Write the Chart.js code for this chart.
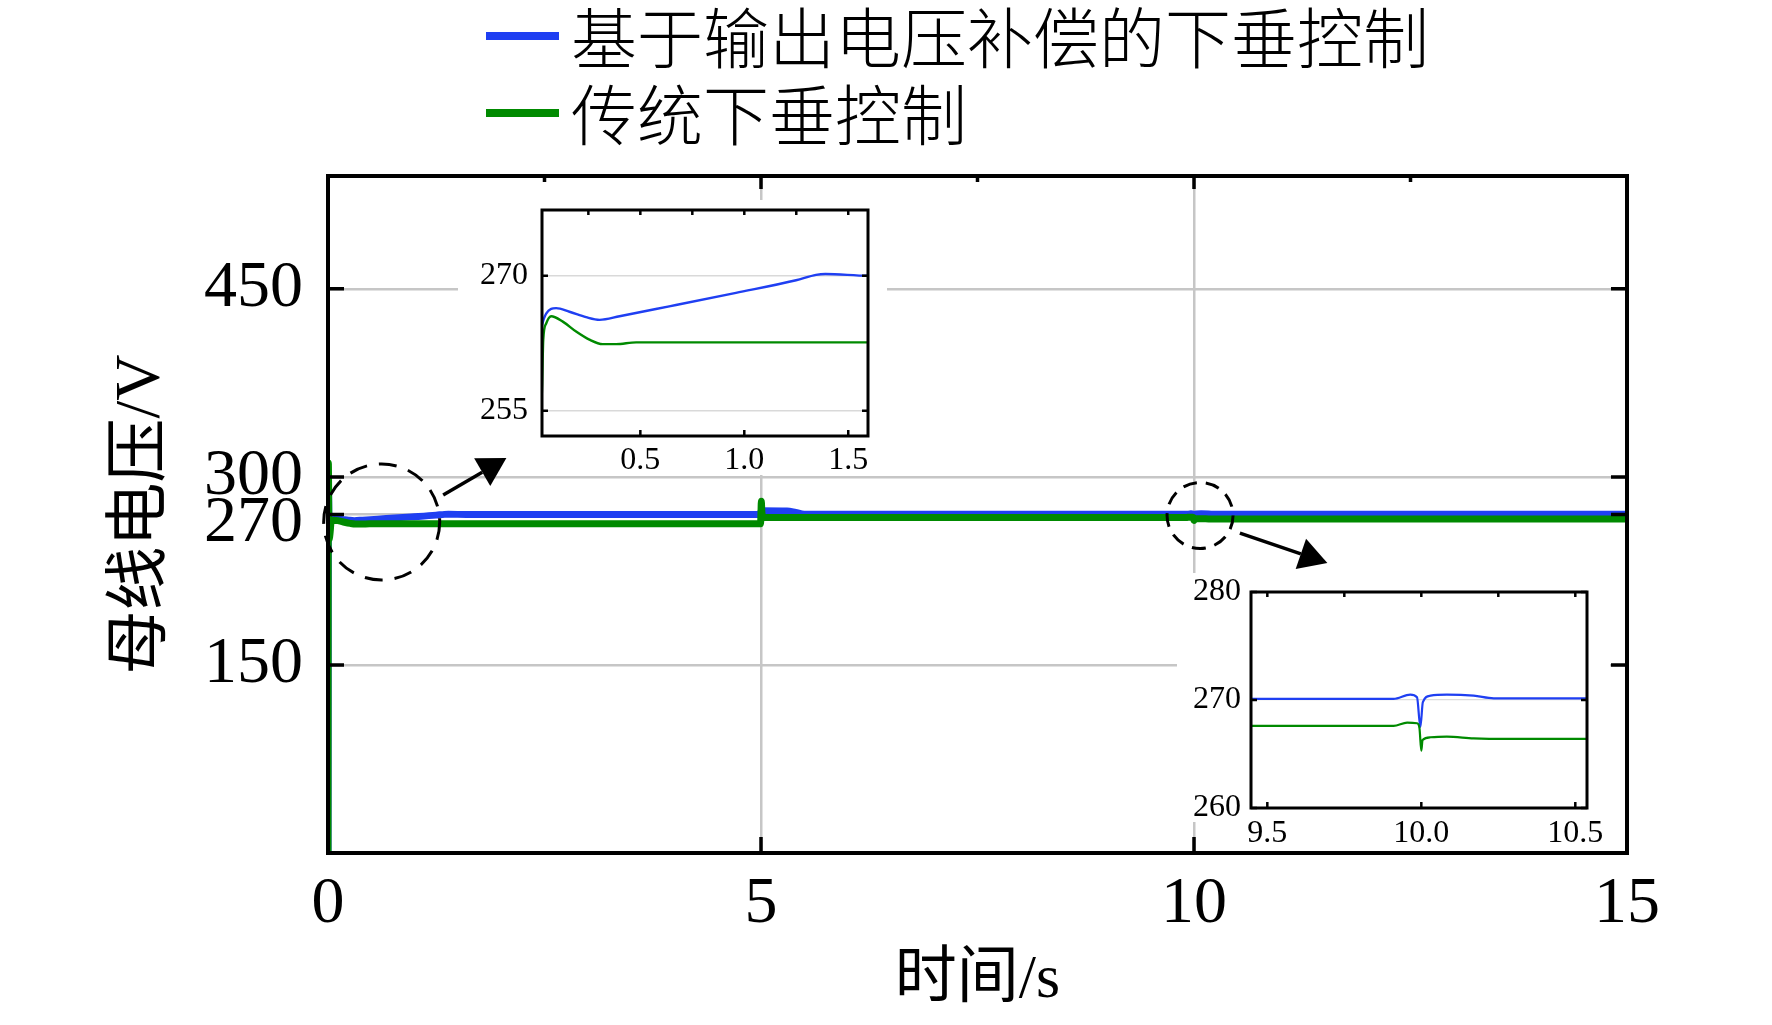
<!DOCTYPE html>
<html>
<head>
<meta charset="utf-8">
<script src="https://cdn.jsdelivr.net/npm/chart.js@4.4.1/dist/chart.umd.min.js"></script>
<style>
  html, body { margin: 0; padding: 0; background: #fff; }
  #wrap { position: relative; width: 1772px; height: 1025px; }
  canvas { position: absolute; }
</style>
</head>
<body>
<div id="wrap">
  <canvas id="main" width="1772" height="1025" style="left:0;top:0"></canvas>
  <canvas id="zoom1" width="430" height="279" style="left:458px;top:196px"></canvas>
  <canvas id="zoom2" width="433" height="277" style="left:1177px;top:573px"></canvas>
</div>
<script>
// nazivi serija i osi
const seriesNames = ['基于输出电压补偿的下垂控制', '传统下垂控制'];
const xTitle = '时间/s';
const yTitle = '母线电压/V';

// očitano sa slike: vrijeme (s) i napon (V)
const tBlue = [0, 0.004, 0.012, 0.027, 0.047, 0.095, 0.159, 0.239, 0.304, 0.40, 0.639, 0.96, 1.249, 1.345, 1.39, 1.6,
  4.995, 5.002, 5.3, 5.4, 5.5, 9.91, 9.964, 9.986, 9.997, 10.005, 10.03, 10.083, 10.17, 10.235, 15];
const vBlue = [0, 296, 262.5, 264.5, 265.8, 266.4, 266.0, 265.4, 265.1, 265.5, 266.6, 268.1, 269.5, 270.1, 270.2, 270.0,
  270.0, 273.0, 272.8, 271.6, 270.2, 270.1, 270.5, 270.25, 267.5, 269.8, 270.4, 270.5, 270.4, 270.15, 270.1];

const tGreen = [0, 0.004, 0.012, 0.027, 0.033, 0.047, 0.071, 0.127, 0.191, 0.255, 0.319, 0.383, 0.48,
  4.995, 5.0, 5.004, 5.01, 5.03, 9.91, 9.954, 9.986, 9.994, 10.0, 10.004, 10.03, 10.083, 10.17, 10.28, 15];
const vGreen = [0, 311, 250, 257.5, 262.9, 264.7, 265.5, 264.9, 263.8, 262.9, 262.4, 262.4, 262.6,
  262.6, 272, 280.5, 272, 267.6, 267.6, 267.9, 267.85, 267.4, 265.3, 266.3, 266.55, 266.6, 266.45, 266.4, 266.4];

// oznake na osima
const xTicksMain = [0, 5, 10, 15];
const xMinorMain = [2.5, 7.5, 12.5];
const yTicksMain = [150, 270, 300, 450];
const xTicksZoom1 = [0.5, 1.0, 1.5];
const xTopZoom1 = [0.25, 0.5, 0.75, 1.0, 1.25, 1.5];
const yTicksZoom1 = [255, 270];
const xTicksZoom2 = [9.5, 10.0, 10.5];
const xTopZoom2 = [9.5, 9.75, 10.0, 10.25, 10.5];
const yTicksZoom2 = [260, 270, 280];

// boje i fontovi
const BLUE = '#1f3ff2';
const GREEN = '#008a00';
const GRID = '#c6c6c6';
const SERIF = '"Liberation Serif", "Times New Roman", serif';
const CJK = '"Liberation Serif", "Noto Sans CJK SC", serif';

const toXY = (t, v) => t.map((x, i) => ({ x, y: v[i] }));

function lineSets(width) {
  const base = { pointRadius: 0, borderWidth: width, fill: false, cubicInterpolationMode: 'monotone' };
  return [
    { ...base, label: seriesNames[0], data: toXY(tBlue, vBlue), borderColor: BLUE, order: 2 },
    { ...base, label: seriesNames[1], data: toXY(tGreen, vGreen), borderColor: GREEN, order: 1 },
  ];
}

const setTicks = arr => s => { s.ticks = arr.map(v => ({ value: v })); };

// fiksna širina/visina osi, bez dodatnog razmaka za rubne oznake
const fixSize = (key, size) => s => {
  s[key] = size;
  s.paddingTop = 0; s.paddingBottom = 0; s.paddingLeft = 0; s.paddingRight = 0;
};

// okvir i kratke crtice prema unutra
const framePlugin = {
  id: 'frame',
  afterDraw(chart, args, o) {
    const { ctx, chartArea: a, scales: { x, y } } = chart;
    ctx.save();
    ctx.strokeStyle = '#000';
    ctx.lineWidth = o.tickWidth;
    ctx.beginPath();
    for (const v of o.side) {
      const py = y.getPixelForValue(v);
      ctx.moveTo(a.left, py); ctx.lineTo(a.left + o.len, py);
      ctx.moveTo(a.right, py); ctx.lineTo(a.right - o.len, py);
    }
    for (const v of o.bottom) {
      const px = x.getPixelForValue(v);
      ctx.moveTo(px, a.bottom); ctx.lineTo(px, a.bottom - o.len);
    }
    for (const v of o.top) {
      const px = x.getPixelForValue(v);
      ctx.moveTo(px, a.top); ctx.lineTo(px, a.top + o.topLen);
    }
    for (const v of (o.topMinor || [])) {
      const px = x.getPixelForValue(v);
      ctx.moveTo(px, a.top); ctx.lineTo(px, a.top + o.minorLen);
    }
    ctx.stroke();
    ctx.lineWidth = o.width;
    ctx.strokeRect(a.left, a.top, a.right - a.left, a.bottom - a.top);
    ctx.restore();
  }
};

// bijela polja ispod umetaka, legenda, oznake Y osi, krugovi i strelice
const insetBoxes = [
  { left: 458, top: 200, right: 887, bottom: 475 },
  { left: 1177, top: 573, right: 1610, bottom: 822 },
];
const ellipses = [
  { t: 0.62, v: 264, r: 58, dash: [18, 12] },
  { t: 10.07, v: 269.2, r: 33, dash: [14, 9] },
];
const arrows = [
  { from: [1.33, 285.6], to: [2.06, 315] },
  { from: [10.53, 255.2], to: [11.54, 231.3] },
];

const decorPlugin = {
  id: 'decor',
  beforeDatasetsDraw(chart) {
    const ctx = chart.ctx;
    ctx.save();
    ctx.fillStyle = '#fff';
    for (const b of insetBoxes) ctx.fillRect(b.left, b.top, b.right - b.left, b.bottom - b.top);
    ctx.restore();
  },
  afterDraw(chart) {
    const { ctx, chartArea: a, scales: { x, y } } = chart;
    ctx.save();

    // oznake Y osi (270 se spušta da ne prekrije 300)
    ctx.font = `66px ${SERIF}`;
    ctx.fillStyle = '#000';
    ctx.textAlign = 'right';
    ctx.textBaseline = 'middle';
    let prev = -1e9;
    for (const v of [...yTicksMain].sort((p, q) => q - p)) {
      let py = y.getPixelForValue(v);
      if (py - prev < 47) py = prev + 47;
      ctx.fillText(String(v), a.left - 25, py);
      prev = py;
    }

    // legenda
    ctx.textAlign = 'left';
    ctx.font = `300 66px "Noto Sans CJK SC", ${SERIF}`;
    chart.data.datasets.forEach((ds, i) => {
      const ry = 36 + i * 77;
      ctx.strokeStyle = ds.borderColor;
      ctx.lineWidth = 8;
      ctx.beginPath(); ctx.moveTo(486, ry); ctx.lineTo(559, ry); ctx.stroke();
      ctx.fillStyle = '#000';
      ctx.fillText(ds.label, 571, ry + 2);
    });

    // isprekidani krugovi
    ctx.strokeStyle = '#000';
    ctx.lineWidth = 3;
    for (const e of ellipses) {
      ctx.setLineDash(e.dash);
      ctx.beginPath();
      ctx.ellipse(x.getPixelForValue(e.t), y.getPixelForValue(e.v), e.r, e.r, 0, 0, Math.PI * 2);
      ctx.stroke();
    }
    ctx.setLineDash([]);

    // strelice
    ctx.lineWidth = 3.5;
    ctx.fillStyle = '#000';
    for (const s of arrows) {
      const x0 = x.getPixelForValue(s.from[0]), y0 = y.getPixelForValue(s.from[1]);
      const x1 = x.getPixelForValue(s.to[0]), y1 = y.getPixelForValue(s.to[1]);
      const ang = Math.atan2(y1 - y0, x1 - x0);
      const c = Math.cos(ang), sn = Math.sin(ang);
      const bx = x1 - 28 * c, by = y1 - 28 * sn;
      ctx.beginPath(); ctx.moveTo(x0, y0); ctx.lineTo(bx, by); ctx.stroke();
      ctx.beginPath();
      ctx.moveTo(x1, y1);
      ctx.lineTo(bx + 16 * sn, by - 16 * c);
      ctx.lineTo(bx - 16 * sn, by + 16 * c);
      ctx.closePath();
      ctx.fill();
    }
    ctx.restore();
  }
};

const common = {
  responsive: false,
  animation: false,
  events: [],
};
const noLegend = { legend: { display: false }, tooltip: { enabled: false } };

// glavni graf
new Chart(document.getElementById('main'), {
  type: 'line',
  data: { datasets: lineSets(7) },
  options: {
    ...common,
    layout: { padding: { top: 176, right: 145, left: 0, bottom: 0 } },
    scales: {
      x: {
        type: 'linear', min: 0, max: 15,
        afterBuildTicks: setTicks(xTicksMain),
        afterFit: fixSize('height', 172),
        grid: { color: GRID, lineWidth: 2.5, drawTicks: false },
        border: { display: false },
        ticks: { font: { family: SERIF, size: 66 }, color: '#000', padding: 12, maxRotation: 0, autoSkip: false },
        title: { display: true, text: xTitle, color: '#000', font: { family: CJK, size: 62 }, padding: { top: 0, bottom: 7 } }
      },
      y: {
        type: 'linear', min: 0, max: 540,
        afterBuildTicks: setTicks(yTicksMain),
        afterFit: fixSize('width', 328),
        grid: { color: GRID, lineWidth: 2.5, drawTicks: false },
        border: { display: false },
        ticks: { display: false },
        title: { display: true, text: yTitle, color: '#000', font: { family: CJK, size: 64 }, padding: { top: 104, bottom: 0 } }
      }
    },
    plugins: {
      ...noLegend,
      frame: { width: 4, tickWidth: 3.5, len: 16, topLen: 13, minorLen: 6,
        side: yTicksMain, bottom: [5, 10], top: [5, 10], topMinor: xMinorMain }
    }
  },
  plugins: [decorPlugin, framePlugin]
});

// umetak 0 - 1.6 s
new Chart(document.getElementById('zoom1'), {
  type: 'line',
  data: { datasets: lineSets(2.4) },
  options: {
    ...common,
    layout: { padding: { top: 14, right: 20, left: 0, bottom: 0 } },
    scales: {
      x: {
        type: 'linear', min: 0.027, max: 1.595,
        afterBuildTicks: setTicks(xTicksZoom1),
        afterFit: fixSize('height', 39),
        grid: { display: false, drawTicks: false },
        border: { display: false },
        ticks: { font: { family: SERIF, size: 32 }, color: '#000', padding: 5, maxRotation: 0, autoSkip: false,
          callback: v => Number(v).toFixed(1) }
      },
      y: {
        type: 'linear', min: 252.2, max: 277.3,
        afterBuildTicks: setTicks(yTicksZoom1),
        afterFit: fixSize('width', 84),
        grid: { color: '#d9d9d9', lineWidth: 1.5, drawTicks: false },
        border: { display: false },
        ticks: { font: { family: SERIF, size: 32 }, color: '#000', padding: 14, autoSkip: false }
      }
    },
    plugins: {
      ...noLegend,
      frame: { width: 3, tickWidth: 2.5, len: 6, topLen: 5, minorLen: 5,
        side: yTicksZoom1, bottom: xTicksZoom1, top: xTopZoom1 }
    }
  },
  plugins: [framePlugin]
});

// umetak 9.45 - 10.55 s
new Chart(document.getElementById('zoom2'), {
  type: 'line',
  data: { datasets: lineSets(2.2) },
  options: {
    ...common,
    layout: { padding: { top: 19, right: 23, left: 0, bottom: 0 } },
    scales: {
      x: {
        type: 'linear', min: 9.447, max: 10.538,
        afterBuildTicks: setTicks(xTicksZoom2),
        afterFit: fixSize('height', 42),
        grid: { display: false, drawTicks: false },
        border: { display: false },
        ticks: { font: { family: SERIF, size: 32 }, color: '#000', padding: 6, maxRotation: 0, autoSkip: false,
          callback: v => Number(v).toFixed(1) }
      },
      y: {
        type: 'linear', min: 260, max: 280,
        afterBuildTicks: setTicks(yTicksZoom2),
        afterFit: fixSize('width', 74),
        grid: { color: '#dcdcdc', lineWidth: 1.2, drawTicks: false },
        border: { display: false },
        ticks: { font: { family: SERIF, size: 32 }, color: '#000', padding: 10, autoSkip: false }
      }
    },
    plugins: {
      ...noLegend,
      frame: { width: 3, tickWidth: 2.5, len: 6, topLen: 5, minorLen: 5,
        side: yTicksZoom2, bottom: xTicksZoom2, top: xTopZoom2 }
    }
  },
  plugins: [framePlugin]
});
</script>
</body>
</html>
